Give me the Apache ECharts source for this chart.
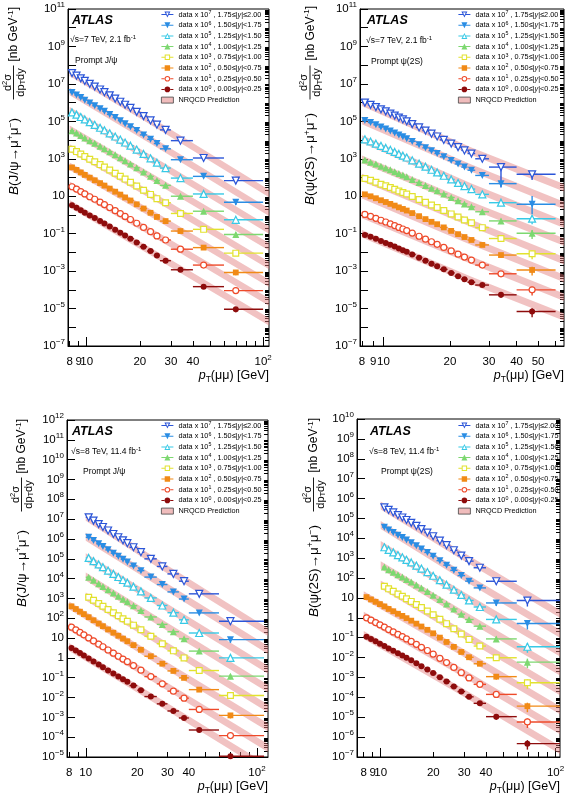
<!DOCTYPE html>
<html><head><meta charset="utf-8">
<script src="https://cdn.jsdelivr.net/npm/echarts@6/dist/echarts.min.js"></script>
<style>html,body{margin:0;padding:0;background:#fff}#c{width:568px;height:800px}</style>
</head><body><div id="c"></div>
<script>
// ================= DATA =================
const SCALE_EXP = [7, 6, 5, 4, 3, 2, 1, 0];
const RAPIDITY = ['1.75≤|y|≤2.00', '1.50≤|y|<1.75', '1.25≤|y|<1.50', '1.00≤|y|<1.25',
                  '0.75≤|y|<1.00', '0.50≤|y|<0.75', '0.25≤|y|<0.50', '0.00≤|y|<0.25'];
const X_TICK_VALUES = [8, 9, 10, 20, 30, 40, 50, 60, 70, 80, 90, 100];

// ---- Panel 1: prompt J/psi, 7 TeV (unscaled values, nb/GeV) ----
const P1_pt = [8.25, 8.75, 9.25, 9.75, 10.4, 11.1, 11.9, 12.6, 13.5, 14.5, 15.5, 16.5, 17.7, 19.2, 21, 23, 25, 28, 34, 46, 70];
const P1_lo = [8, 8.5, 9, 9.5, 10, 10.75, 11.5, 12.25, 13, 14, 15, 16, 17, 18.5, 20, 22, 24, 26, 30, 40, 60];
const P1_hi = [8.5, 9, 9.5, 10, 10.75, 11.5, 12.25, 13, 14, 15, 16, 17, 18.5, 20, 22, 24, 26, 30, 40, 60, 100];
const P1_k7 = [3.8, 2.75, 1.98, 1.44, 1.01, 0.72, 0.5, 0.36, 0.245, 0.163, 0.111, 0.077, 0.052, 0.032, 0.019, 0.0112, 0.0066, 0.0035, 9.3e-4, 1.1e-4, 6.8e-6];
const P1_k6 = [3.45, 2.55, 1.85, 1.35, 0.95, 0.68, 0.47, 0.345, 0.235, 0.158, 0.108, 0.075, 0.051, 0.032, 0.0188, 0.011, 0.0065, 0.0034, 8.9e-4, 1.15e-4, 4.8e-6];
const P1_k5 = [3.0, 2.28, 1.7, 1.26, 0.9, 0.65, 0.455, 0.335, 0.23, 0.155, 0.106, 0.074, 0.05, 0.031, 0.0182, 0.0106, 0.0062, 0.0032, 9.3e-4, 1.32e-4, 5.5e-6];
const P1_k4 = [3.15, 2.38, 1.76, 1.3, 0.92, 0.67, 0.47, 0.345, 0.238, 0.162, 0.112, 0.078, 0.053, 0.033, 0.0198, 0.0116, 0.0069, 0.0038, 1.0e-3, 1.58e-4, 9.1e-6];
const P1_k3 = [3.25, 2.42, 1.8, 1.33, 0.95, 0.69, 0.49, 0.36, 0.25, 0.17, 0.117, 0.082, 0.056, 0.035, 0.021, 0.0125, 0.0074, 0.0045, 1.2e-3, 1.7e-4, 9.1e-6];
const P1_k2 = [3.45, 2.55, 1.87, 1.38, 0.98, 0.71, 0.5, 0.37, 0.255, 0.175, 0.122, 0.086, 0.059, 0.037, 0.022, 0.013, 0.0078, 0.0047, 1.38e-3, 1.8e-4, 8.5e-6];
const P1_k1 = [3.2, 2.4, 1.78, 1.32, 0.94, 0.69, 0.48, 0.36, 0.25, 0.17, 0.118, 0.083, 0.057, 0.036, 0.0215, 0.0127, 0.0076, 0.0046, 1.48e-3, 2.1e-4, 9.1e-6];
const P1_k0 = [3.3, 2.45, 1.8, 1.32, 0.93, 0.68, 0.47, 0.35, 0.24, 0.163, 0.113, 0.079, 0.054, 0.034, 0.020, 0.0117, 0.0069, 0.0036, 1.18e-3, 1.48e-4, 9.1e-6];
const P1_relErr = [0.03, 0.03, 0.03, 0.03, 0.03, 0.03, 0.03, 0.03, 0.03, 0.03, 0.03, 0.03, 0.03, 0.03, 0.03, 0.03, 0.03, 0.05, 0.08, 0.15, 0.3];
const P1_band_k7 = [[8, 2.63, 6.61], [25, 4.17e-3, 1.05e-2], [108, 8.9e-7, 2.24e-6]];
const P1_band_k6 = [[8, 2.51, 6.31], [25, 3.98e-3, 1.0e-2], [108, 8.9e-7, 2.24e-6]];
const P1_band_k5 = [[8, 2.29, 5.75], [25, 3.98e-3, 1.0e-2], [108, 1.0e-6, 2.51e-6]];
const P1_band_k4 = [[8, 2.40, 6.03], [25, 4.47e-3, 1.12e-2], [108, 1.26e-6, 3.16e-6]];
const P1_band_k3 = [[8, 2.40, 6.03], [25, 4.79e-3, 1.20e-2], [108, 1.26e-6, 3.16e-6]];
const P1_band_k2 = [[8, 2.51, 6.31], [25, 5.01e-3, 1.26e-2], [108, 1.41e-6, 3.55e-6]];
const P1_band_k1 = [[8, 2.40, 6.03], [25, 5.01e-3, 1.26e-2], [108, 1.41e-6, 3.55e-6]];
const P1_band_k0 = [[8, 2.51, 6.31], [25, 4.47e-3, 1.12e-2], [108, 1.26e-6, 3.16e-6]];
const P1_xLabels = [8, 9, 10, 20, 30, 40, 100];
const P1_yLabelExp = [-7, -5, -3, -1, 1, 3, 5, 7, 9, 11];

// ---- Panel 2: prompt psi(2S), 7 TeV ----
const P2_pt = [8.25, 8.75, 9.25, 9.75, 10.25, 10.75, 11.25, 11.75, 12.25, 12.75, 13.5, 14.5, 15.5, 16.5, 17.5, 18.75, 20.25, 21.75, 23.25, 25, 28, 34, 47];
const P2_lo = [8, 8.5, 9, 9.5, 10, 10.5, 11, 11.5, 12, 12.5, 13, 14, 15, 16, 17, 18, 19.5, 21, 22.5, 24, 26, 30, 40];
const P2_hi = [8.5, 9, 9.5, 10, 10.5, 11, 11.5, 12, 12.5, 13, 14, 15, 16, 17, 18, 19.5, 21, 22.5, 24, 26, 30, 40, 60];
const P2_k7 = [0.100, 0.076, 0.058, 0.044, 0.034, 0.026, 0.0204, 0.0158, 0.0126, 0.0100, 0.0071, 0.0047, 0.0032, 0.0022, 0.00155, 0.00102, 6.5e-4, 4.2e-4, 2.8e-4, 1.9e-4, 1.0e-4, 3.6e-5, 1.48e-5];
const P2_k6 = [0.112, 0.086, 0.065, 0.050, 0.039, 0.0305, 0.0239, 0.0187, 0.0149, 0.0119, 0.0085, 0.0057, 0.00385, 0.0027, 0.0019, 0.00127, 8.1e-4, 5.3e-4, 3.6e-4, 2.45e-4, 1.29e-4, 4.7e-5, 3.7e-6];
const P2_k5 = [0.110, 0.084, 0.064, 0.049, 0.038, 0.030, 0.0233, 0.0182, 0.0146, 0.0117, 0.0083, 0.0055, 0.0038, 0.0026, 0.00187, 0.00124, 7.9e-4, 5.1e-4, 3.5e-4, 2.4e-4, 1.26e-4, 4.5e-5, 6.3e-6];
const P2_k4 = [0.085, 0.066, 0.052, 0.040, 0.032, 0.0257, 0.0205, 0.0164, 0.0134, 0.0109, 0.0079, 0.0054, 0.0037, 0.0027, 0.00194, 0.00132, 8.6e-4, 5.7e-4, 3.9e-4, 2.7e-4, 1.48e-4, 4.8e-5, 1.05e-5];
const P2_k3 = [0.089, 0.071, 0.056, 0.044, 0.036, 0.029, 0.0235, 0.019, 0.0158, 0.0131, 0.0097, 0.0067, 0.0047, 0.0034, 0.0025, 0.00173, 0.00114, 7.7e-4, 5.4e-4, 3.8e-4, 2.1e-4, 5.5e-5, 8.5e-6];
const P2_k2 = [0.126, 0.099, 0.078, 0.061, 0.049, 0.039, 0.0316, 0.0254, 0.0209, 0.0172, 0.0126, 0.0086, 0.006, 0.0043, 0.0032, 0.00216, 0.00141, 9.4e-4, 6.6e-4, 4.6e-4, 2.5e-4, 7.2e-5, 1.15e-5];
const P2_k1 = [0.107, 0.084, 0.066, 0.052, 0.042, 0.0335, 0.0269, 0.0216, 0.0178, 0.0146, 0.0107, 0.0073, 0.0051, 0.0037, 0.0027, 0.00184, 0.0012, 8.0e-4, 5.6e-4, 3.9e-4, 2.1e-4, 7.2e-5, 1.0e-5];
const P2_k0 = [0.085, 0.068, 0.053, 0.041, 0.032, 0.0257, 0.0204, 0.0162, 0.0131, 0.0107, 0.0077, 0.0052, 0.0036, 0.0025, 0.00183, 0.00124, 8.0e-4, 5.3e-4, 3.7e-4, 2.55e-4, 1.8e-4, 5.4e-5, 6.9e-6];
const P2_relErr = [0.04, 0.04, 0.04, 0.04, 0.04, 0.04, 0.04, 0.04, 0.04, 0.04, 0.04, 0.04, 0.04, 0.04, 0.04, 0.04, 0.06, 0.08, 0.1, 0.12, 0.15, 0.3, 0.5];
// [series scale exponent, point index, relative down, relative up]
const P2_errOverride = [[7, 21, 0.92, 0.3], [6, 22, 0.7, 1.8]];
const P2_band_k7 = [[8, 0.066, 0.166], [25, 1.58e-4, 3.98e-4], [65.5, 1.78e-6, 4.47e-6]];
const P2_band_k6 = [[8, 0.0708, 0.178], [25, 2.0e-4, 5.01e-4], [65.5, 2.0e-6, 5.01e-6]];
const P2_band_k5 = [[8, 0.0708, 0.178], [25, 1.91e-4, 4.79e-4], [65.5, 2.0e-6, 5.01e-6]];
const P2_band_k4 = [[8, 0.0603, 0.151], [25, 2.0e-4, 5.01e-4], [65.5, 2.24e-6, 5.62e-6]];
const P2_band_k3 = [[8, 0.0631, 0.158], [25, 2.24e-4, 5.62e-4], [65.5, 2.24e-6, 5.62e-6]];
const P2_band_k2 = [[8, 0.0759, 0.191], [25, 2.51e-4, 6.31e-4], [65.5, 2.51e-6, 6.31e-6]];
const P2_band_k1 = [[8, 0.0676, 0.170], [25, 2.40e-4, 6.03e-4], [65.5, 2.51e-6, 6.31e-6]];
const P2_band_k0 = [[8, 0.0631, 0.158], [25, 2.0e-4, 5.01e-4], [65.5, 2.24e-6, 5.62e-6]];
const P2_xLabels = [8, 9, 10, 20, 30, 40, 50];
const P2_yLabelExp = [-7, -5, -3, -1, 1, 3, 5, 7, 9, 11];

// ---- Panel 3: prompt J/psi, 8 TeV ----
const P3_pt = [8.25, 8.75, 9.25, 9.75, 10.4, 11.1, 11.9, 12.6, 13.5, 14.5, 15.5, 16.5, 17.5, 19, 21, 24, 28, 32.5, 37.5, 46, 70];
const P3_lo = [8, 8.5, 9, 9.5, 10, 10.75, 11.5, 12.25, 13, 14, 15, 16, 17, 18, 20, 22, 26, 30, 35, 40, 60];
const P3_hi = [8.5, 9, 9.5, 10, 10.75, 11.5, 12.25, 13, 14, 15, 16, 17, 18, 20, 22, 26, 30, 35, 40, 60, 110];
const P3_k7 = [null, null, null, null, 1.23, 0.84, 0.56, 0.40, 0.267, 0.178, 0.122, 0.085, 0.061, 0.038, 0.0215, 0.0099, 0.0041, 0.00172, 7.4e-4, 1.7e-4, 7.1e-6];
const P3_k6 = [null, null, null, null, 1.2, 0.84, 0.57, 0.413, 0.281, 0.191, 0.133, 0.094, 0.069, 0.0436, 0.0252, 0.0119, 0.005, 0.00213, 9.3e-4, 1.86e-4, 8.3e-6];
const P3_k5 = [null, null, null, null, 1.1, 0.76, 0.516, 0.375, 0.255, 0.173, 0.12, 0.085, 0.062, 0.039, 0.0226, 0.0106, 0.0044, 0.0019, 8.3e-4, 1.8e-4, 1.0e-5];
const P3_k4 = [null, null, null, null, 1.17, 0.82, 0.555, 0.404, 0.275, 0.187, 0.13, 0.092, 0.067, 0.0426, 0.0246, 0.0116, 0.0049, 0.00208, 9.1e-4, 2.2e-4, 1.2e-5];
const P3_k3 = [null, null, null, null, 1.15, 0.81, 0.55, 0.405, 0.277, 0.19, 0.133, 0.095, 0.070, 0.0448, 0.0261, 0.0124, 0.0052, 0.00226, 1.0e-3, 2.3e-4, 1.26e-5];
const P3_k2 = [3.98, 2.92, 2.14, 1.61, 1.13, 0.79, 0.54, 0.397, 0.272, 0.186, 0.131, 0.094, 0.069, 0.044, 0.0256, 0.0121, 0.0051, 0.0022, 9.8e-4, 2.5e-4, 1.26e-5];
const P3_k1 = [3.55, 2.61, 1.92, 1.45, 1.02, 0.72, 0.49, 0.364, 0.25, 0.172, 0.121, 0.087, 0.064, 0.041, 0.024, 0.0114, 0.0049, 0.0021, 9.3e-4, 2.5e-4, 1.2e-5];
const P3_k0 = [3.16, 2.34, 1.74, 1.32, 0.93, 0.66, 0.457, 0.339, 0.234, 0.162, 0.115, 0.083, 0.062, 0.040, 0.0234, 0.0112, 0.0048, 0.0021, 9.3e-4, 2.3e-4, 1.1e-5];
const P3_relErr = [0.02, 0.02, 0.02, 0.02, 0.02, 0.02, 0.02, 0.02, 0.02, 0.02, 0.02, 0.02, 0.02, 0.02, 0.02, 0.02, 0.04, 0.05, 0.07, 0.12, 0.3];
const P3_band_k7 = [[10, 0.832, 2.09], [28, 2.63e-3, 6.61e-3], [116, 1.26e-6, 3.16e-6]];
const P3_band_k6 = [[10, 0.813, 2.04], [28, 3.16e-3, 7.94e-3], [116, 1.58e-6, 3.98e-6]];
const P3_band_k5 = [[10, 0.759, 1.91], [28, 3.02e-3, 7.59e-3], [116, 1.58e-6, 3.98e-6]];
const P3_band_k4 = [[10, 0.794, 2.0], [28, 3.31e-3, 8.32e-3], [116, 1.78e-6, 4.47e-6]];
const P3_band_k3 = [[10, 0.794, 2.0], [28, 3.39e-3, 8.51e-3], [116, 1.78e-6, 4.47e-6]];
const P3_band_k2 = [[8, 2.82, 7.08], [28, 3.39e-3, 8.51e-3], [116, 2.0e-6, 5.01e-6]];
const P3_band_k1 = [[8, 2.51, 6.31], [28, 3.16e-3, 7.94e-3], [116, 1.78e-6, 4.47e-6]];
const P3_band_k0 = [[8, 2.24, 5.62], [28, 3.02e-3, 7.59e-3], [116, 1.58e-6, 3.98e-6]];
const P3_xLabels = [8, 10, 20, 30, 40, 100];
const P3_yLabelExp = [-5, -4, -3, -2, -1, 0, 1, 2, 3, 4, 5, 6, 7, 8, 9, 10, 11, 12];

// ---- Panel 4: prompt psi(2S), 8 TeV ----
const P4_pt = [8.3, 8.8, 9.35, 9.9, 10.5, 11.1, 11.8, 12.55, 13.3, 14.05, 14.95, 16, 17.1, 18.5, 19.95, 21.8, 23.8, 26.2, 28.9, 32, 36.9, 45.8, 69];
const P4_lo = [8, 8.55, 9.1, 9.6, 10.2, 10.8, 11.45, 12.15, 12.9, 13.65, 14.5, 15.45, 16.5, 17.75, 19.2, 20.85, 22.8, 25, 27.5, 30.4, 34, 40, 60];
const P4_hi = [8.55, 9.1, 9.6, 10.2, 10.8, 11.45, 12.15, 12.9, 13.65, 14.5, 15.45, 16.5, 17.75, 19.2, 20.85, 22.8, 25, 27.5, 30.4, 34, 40, 60, 110];
const P4_k7 = [null, null, null, null, 0.0363, 0.0266, 0.0199, 0.0145, 0.0111, 0.0083, 0.006, 0.0042, 0.0029, 0.00195, 0.00127, 7.6e-4, 4.5e-4, 2.5e-4, 1.35e-4, 7.1e-5, 3.3e-5, 6.9e-6, 7.4e-7];
const P4_k6 = [null, null, null, null, 0.0363, 0.0265, 0.0198, 0.0144, 0.011, 0.0082, 0.006, 0.00419, 0.0029, 0.00194, 0.00126, 7.5e-4, 4.44e-4, 2.46e-4, 1.33e-4, 7.0e-5, 3.2e-5, 5.6e-6, 5.2e-7];
const P4_k5 = [null, null, null, null, 0.0355, 0.026, 0.0196, 0.0143, 0.011, 0.0083, 0.0061, 0.00426, 0.003, 0.002, 0.00131, 7.8e-4, 4.65e-4, 2.59e-4, 1.41e-4, 7.5e-5, 3.5e-5, 8.3e-6, 3.5e-7];
const P4_k4 = [null, null, null, null, 0.0355, 0.0262, 0.0198, 0.0146, 0.0113, 0.0085, 0.0063, 0.00443, 0.00313, 0.0021, 0.00138, 8.3e-4, 5.0e-4, 2.79e-4, 1.53e-4, 8.2e-5, 3.8e-5, 8.7e-6, 5.9e-7];
const P4_k3 = [null, null, null, null, 0.0389, 0.0286, 0.0214, 0.0157, 0.0121, 0.0091, 0.0067, 0.00467, 0.00327, 0.00219, 0.00143, 8.5e-4, 5.1e-4, 2.84e-4, 1.54e-4, 8.2e-5, 3.8e-5, 9.8e-6, 5.4e-7];
const P4_k2 = [0.110, 0.084, 0.064, 0.049, 0.0375, 0.028, 0.0214, 0.016, 0.0125, 0.0096, 0.0072, 0.0051, 0.00365, 0.00249, 0.00166, 0.00101, 6.1e-4, 3.46e-4, 1.92e-4, 1.04e-4, 4.9e-5, 1.1e-5, 3.6e-7];
const P4_k1 = [0.100, 0.076, 0.058, 0.0447, 0.0342, 0.0256, 0.0195, 0.0146, 0.0114, 0.0087, 0.0065, 0.00466, 0.0033, 0.00227, 0.00151, 9.2e-4, 5.6e-4, 3.2e-4, 1.75e-4, 9.5e-5, 4.5e-5, 1.41e-5, 5.8e-7];
const P4_k0 = [0.112, 0.086, 0.066, 0.050, 0.038, 0.0287, 0.0219, 0.0164, 0.0128, 0.0098, 0.0073, 0.0052, 0.0037, 0.00254, 0.0017, 0.00103, 6.3e-4, 3.5e-4, 1.96e-4, 1.06e-4, 5.0e-5, 1.07e-5, 4.7e-7];
const P4_relErr = [0.04, 0.04, 0.04, 0.04, 0.04, 0.04, 0.04, 0.04, 0.04, 0.04, 0.04, 0.04, 0.04, 0.04, 0.04, 0.05, 0.06, 0.08, 0.1, 0.12, 0.15, 0.3, 0.5];
const P4_band_k7 = [[10, 0.0282, 0.0708], [28.9, 8.91e-5, 2.24e-4], [106, 1.0e-7, 2.51e-7]];
const P4_band_k6 = [[10, 0.0295, 0.0741], [28.9, 8.91e-5, 2.24e-4], [106, 1.0e-7, 2.51e-7]];
const P4_band_k5 = [[10, 0.0295, 0.0741], [28.9, 9.55e-5, 2.40e-4], [106, 1.12e-7, 2.82e-7]];
const P4_band_k4 = [[10, 0.0282, 0.0708], [28.9, 1.05e-4, 2.63e-4], [106, 1.26e-7, 3.16e-7]];
const P4_band_k3 = [[10, 0.0302, 0.0759], [28.9, 1.10e-4, 2.75e-4], [106, 1.26e-7, 3.16e-7]];
const P4_band_k2 = [[8, 0.0871, 0.219], [28.9, 1.26e-4, 3.16e-4], [106, 1.41e-7, 3.55e-7]];
const P4_band_k1 = [[8, 0.0794, 0.200], [28.9, 1.20e-4, 3.02e-4], [106, 1.41e-7, 3.55e-7]];
const P4_band_k0 = [[8, 0.0871, 0.219], [28.9, 1.26e-4, 3.16e-4], [106, 1.41e-7, 3.55e-7]];
const P4_xLabels = [8, 9, 10, 20, 30, 40, 100];
const P4_yLabelExp = [-7, -6, -5, -4, -3, -2, -1, 0, 1, 2, 3, 4, 5, 6, 7, 8, 9, 10];

// ================= STYLE / LAYOUT =================
const FONT = '"Liberation Sans", Arial, Helvetica, sans-serif';
const COLORS = ['#2b55d8', '#2a8de4', '#37c9e6', '#7dd870', '#e2e22e', '#f18a16', '#ee4a2a', '#8e0c0c'];
const MARKERS = [
  { symbol: 'triangle', rotate: 180, open: true,  size: 7 },
  { symbol: 'triangle', rotate: 180, open: false, size: 7 },
  { symbol: 'triangle', rotate: 0,   open: true,  size: 7 },
  { symbol: 'triangle', rotate: 0,   open: false, size: 7 },
  { symbol: 'rect',     rotate: 0,   open: true,  size: 5.8 },
  { symbol: 'rect',     rotate: 0,   open: false, size: 5.8 },
  { symbol: 'circle',   rotate: 0,   open: true,  size: 6 },
  { symbol: 'circle',   rotate: 0,   open: false, size: 6 }
];
const TRI_LINE = 'M0 2.5H4.8V3.5H0Z M7.2 2.5H12V3.5H7.2Z ';
const SQ_LINE = 'M0 2.5H3.5V3.5H0Z M8.5 2.5H12V3.5H8.5Z ';
const CI_LINE = 'M0 2.5H3.4V3.5H0Z M8.6 2.5H12V3.5H8.6Z ';
const LEGEND_ICONS = [
  'path://' + TRI_LINE + 'M3 0H9L6 6Z M4.6 0.9L6 4.1L7.4 0.9Z',
  'path://' + TRI_LINE + 'M3 0H9L6 6Z',
  'path://' + TRI_LINE + 'M6 0L9 6H3Z M6 1.9L4.6 5.1H7.4Z',
  'path://' + TRI_LINE + 'M6 0L9 6H3Z',
  'path://' + SQ_LINE + 'M3.3 0.3H8.7V5.7H3.3Z M4.3 1.3V4.7H7.7V1.3Z',
  'path://' + SQ_LINE + 'M3.3 0.3H8.7V5.7H3.3Z',
  'path://' + CI_LINE + 'M3.2 3A2.8 2.8 0 1 0 8.8 3A2.8 2.8 0 1 0 3.2 3Z M4.2 3A1.8 1.8 0 1 1 7.8 3A1.8 1.8 0 1 1 4.2 3Z',
  'path://' + CI_LINE + 'M3.2 3A2.8 2.8 0 1 0 8.8 3A2.8 2.8 0 1 0 3.2 3Z'
];
const BAND_FILL = 'rgba(225,120,120,0.45)';
const BAND_NAME = 'NRQCD Prediction';

const PANELS = [
  { grid: { left: 68, top: 9, width: 201, height: 337 }, xr: [7.83, 108], yr: [-7, 11],
    pt: P1_pt, lo: P1_lo, hi: P1_hi, err: P1_relErr, errOv: [],
    vals: [P1_k7, P1_k6, P1_k5, P1_k4, P1_k3, P1_k2, P1_k1, P1_k0],
    bands: [P1_band_k7, P1_band_k6, P1_band_k5, P1_band_k4, P1_band_k3, P1_band_k2, P1_band_k1, P1_band_k0],
    xLabels: P1_xLabels, yLabels: P1_yLabelExp, legend: { left: 161, top: 10 },
    texts: { atlas: [72, 21], energy: [70, 40, '√s=7 TeV, 2.1 fb'], prompt: [75, 61, 'Prompt J/ψ'] },
    ytitle: { cx: 14, top: 6, frac: -76.5, b: -150.5, particle: 'J/ψ' } },
  { grid: { left: 360, top: 9, width: 204, height: 337 }, xr: [7.84, 65.5], yr: [-7, 11],
    pt: P2_pt, lo: P2_lo, hi: P2_hi, err: P2_relErr, errOv: P2_errOverride,
    vals: [P2_k7, P2_k6, P2_k5, P2_k4, P2_k3, P2_k2, P2_k1, P2_k0],
    bands: [P2_band_k7, P2_band_k6, P2_band_k5, P2_band_k4, P2_band_k3, P2_band_k2, P2_band_k1, P2_band_k0],
    xLabels: P2_xLabels, yLabels: P2_yLabelExp, legend: { left: 458, top: 10 },
    texts: { atlas: [367, 21], energy: [366, 41, '√s=7 TeV, 2.1 fb'], prompt: [371, 62, 'Prompt ψ(2S)'] },
    ytitle: { cx: 310.5, top: 5, frac: -77.5, b: -154, particle: 'ψ(2S)' } },
  { grid: { left: 67, top: 420, width: 201, height: 337 }, xr: [7.77, 116], yr: [-5, 12],
    pt: P3_pt, lo: P3_lo, hi: P3_hi, err: P3_relErr, errOv: [],
    vals: [P3_k7, P3_k6, P3_k5, P3_k4, P3_k3, P3_k2, P3_k1, P3_k0],
    bands: [P3_band_k7, P3_band_k6, P3_band_k5, P3_band_k4, P3_band_k3, P3_band_k2, P3_band_k1, P3_band_k0],
    xLabels: P3_xLabels, yLabels: P3_yLabelExp, legend: { left: 161, top: 421 },
    texts: { atlas: [72, 432], energy: [71, 452, '√s=8 TeV, 11.4 fb'], prompt: [83, 472, 'Prompt J/ψ'] },
    ytitle: { cx: 22, top: 418, frac: -76.5, b: -150.5, particle: 'J/ψ' } },
  { grid: { left: 357, top: 419, width: 203, height: 338 }, xr: [7.32, 106], yr: [-7, 10],
    pt: P4_pt, lo: P4_lo, hi: P4_hi, err: P4_relErr, errOv: [],
    vals: [P4_k7, P4_k6, P4_k5, P4_k4, P4_k3, P4_k2, P4_k1, P4_k0],
    bands: [P4_band_k7, P4_band_k6, P4_band_k5, P4_band_k4, P4_band_k3, P4_band_k2, P4_band_k1, P4_band_k0],
    xLabels: P4_xLabels, yLabels: P4_yLabelExp, legend: { left: 458, top: 421 },
    texts: { atlas: [370, 432], energy: [369, 452, '√s=8 TeV, 11.4 fb'], prompt: [381, 472, 'Prompt ψ(2S)'] },
    ytitle: { cx: 314, top: 417, frac: -77.5, b: -154, particle: 'ψ(2S)' } }
];

// ================= BUILD =================
const L = Math.log10;
const legendName = (i) => 'data x 10^' + SCALE_EXP[i] + ' , ' + RAPIDITY[i];
const legendFmt = (name) => name === BAND_NAME ? name :
  name.replace(/10\^(\d)/, '10{s|$1}').replace('|y|', '|{i|y}|');

const AX_RICH = {
  b: { fontSize: 11.5, lineHeight: 16, fontFamily: FONT, color: '#000' },
  s: { fontSize: 8, lineHeight: 8, verticalAlign: 'top', fontFamily: FONT, color: '#000' }
};
const fmtX = (v) => { const x = Math.round(Math.pow(10, v)); return x === 100 ? '{b|10}{s|2}' : '{b|' + x + '}'; };
const fmtY = (v) => { const n = Math.round(v); if (n === 0) return '{b|1}'; if (n === 1) return '{b|10}';
  return '{b|10}{s|' + (n < 0 ? '−' + (-n) : n) + '}'; };

const option = { animation: false, backgroundColor: '#fff', textStyle: { fontFamily: FONT },
  grid: [], xAxis: [], yAxis: [], series: [], legend: [], graphic: [] };

PANELS.forEach((P, pi) => {
  option.grid.push(Object.assign({ show: true, borderColor: '#000', borderWidth: 1, backgroundColor: 'transparent' }, P.grid));
  const xmin = L(P.xr[0]), xmax = L(P.xr[1]);
  option.xAxis.push({ type: 'value', gridIndex: pi, min: xmin, max: xmax, position: 'bottom',
    axisLine: { show: true, onZero: false, lineStyle: { color: '#000', width: 1 } },
    axisTick: { show: true, inside: true, length: 5, lineStyle: { color: '#000' },
      customValues: X_TICK_VALUES.filter(v => v >= P.xr[0] && v <= P.xr[1]).map(L) },
    axisLabel: { show: true, customValues: P.xLabels.map(L), formatter: fmtX, margin: 8, rich: AX_RICH },
    splitLine: { show: false },
    name: '{i|p}{t|T}{n|(μμ) [GeV]}', nameLocation: 'end', nameGap: 0,
    nameTextStyle: { align: 'right', verticalAlign: 'top', padding: [22, 0, 0, 0],
      rich: { i: { fontStyle: 'italic', fontSize: 12.5, lineHeight: 16, fontFamily: FONT },
              t: { fontSize: 8.5, lineHeight: 8, verticalAlign: 'bottom', fontFamily: FONT },
              n: { fontSize: 12.5, lineHeight: 16, fontFamily: FONT } } } });
  option.yAxis.push({ type: 'value', gridIndex: pi, min: P.yr[0], max: P.yr[1], interval: 1,
    axisLine: { show: true, onZero: false, lineStyle: { color: '#000', width: 1 } },
    axisTick: { show: true, inside: true, length: 8, lineStyle: { color: '#000' } },
    axisLabel: { show: true, customValues: P.yLabels, formatter: fmtY, margin: 3, rich: AX_RICH },
    splitLine: { show: false } });
});
// overlay axes: long x ticks at decades, minor y ticks
PANELS.forEach((P, pi) => {
  option.xAxis.push({ type: 'value', gridIndex: pi, min: L(P.xr[0]), max: L(P.xr[1]), position: 'bottom',
    axisLine: { show: false, onZero: false }, axisLabel: { show: false }, splitLine: { show: false },
    axisTick: { show: true, inside: true, length: 9, lineStyle: { color: '#000' },
      customValues: [10, 100].filter(v => v >= P.xr[0] && v <= P.xr[1]).map(L) } });
  const minor = [];
  for (let n = P.yr[0]; n < P.yr[1]; n++) for (let m = 2; m <= 9; m++) minor.push(n + L(m));
  option.yAxis.push({ type: 'value', gridIndex: pi, min: P.yr[0], max: P.yr[1],
    axisLine: { show: false, onZero: false }, axisLabel: { show: false }, splitLine: { show: false },
    axisTick: { show: true, inside: true, length: 4, lineStyle: { color: '#000' }, customValues: minor } });
});

PANELS.forEach((P, pi) => {
  const legendData = [];
  SCALE_EXP.forEach((k, si) => {
    const sc = Math.pow(10, k);
    const color = COLORS[si], mk = MARKERS[si], name = legendName(si);
    // NRQCD band
    const nodes = P.bands[si].map(n => [L(n[0]), L(n[1] * sc), L(n[2] * sc)]);
    option.series.push({ type: 'custom', name: BAND_NAME, xAxisIndex: pi, yAxisIndex: pi, clip: true, z: 1,
      itemStyle: { color: BAND_FILL }, silent: true,
      data: nodes,
      renderItem: (params, api) => {
        if (params.dataIndex !== 0) return;
        const up = nodes.map(n => api.coord([n[0], n[2]]));
        const dn = nodes.slice().reverse().map(n => api.coord([n[0], n[1]]));
        return { type: 'polygon', shape: { points: up.concat(dn) }, style: { fill: BAND_FILL } };
      } });
    // error bars
    const errData = [], pts = [];
    P.vals[si].forEach((v, i) => {
      if (v == null) return;
      const y = v * sc;
      let dn = P.err[i], upE = P.err[i];
      P.errOv.forEach(o => { if (o[0] === k && o[1] === i) { dn = o[2]; upE = o[3]; } });
      errData.push([L(P.pt[i]), L(y), L(P.lo[i]), L(P.hi[i]), L(y * (1 - dn)), L(y * (1 + upE))]);
      pts.push([L(P.pt[i]), L(y)]);
    });
    option.series.push({ type: 'custom', name: name, xAxisIndex: pi, yAxisIndex: pi, clip: true, z: 2, silent: true,
      itemStyle: { color: color }, data: errData,
      renderItem: (params, api) => {
        const a = api.coord([api.value(2), api.value(1)]), b = api.coord([api.value(3), api.value(1)]);
        const c = api.coord([api.value(0), api.value(4)]), d = api.coord([api.value(0), api.value(5)]);
        return { type: 'group', children: [
          { type: 'line', shape: { x1: a[0], y1: a[1], x2: b[0], y2: b[1] }, style: { stroke: color, lineWidth: 1.4 } },
          { type: 'line', shape: { x1: c[0], y1: c[1], x2: d[0], y2: d[1] }, style: { stroke: color, lineWidth: 1.4 } } ] };
      } });
    // markers
    option.series.push({ type: 'scatter', name: name, xAxisIndex: pi, yAxisIndex: pi, z: 3, silent: true,
      symbol: mk.symbol, symbolRotate: mk.rotate, symbolSize: mk.size,
      itemStyle: mk.open ? { color: '#fff', borderColor: color, borderWidth: 1.2, opacity: 1 } : { color: color, opacity: 1 },
      data: pts });
    legendData.push({ name: name, icon: LEGEND_ICONS[si], itemStyle: { color: color, borderWidth: 0 } });
  });
  legendData.push({ name: BAND_NAME, icon: 'rect', itemStyle: { color: '#f0bcbc', borderColor: '#444', borderWidth: 0.8 } });
  option.legend.push({ show: true, orient: 'vertical', left: P.legend.left, top: P.legend.top, padding: 0,
    itemWidth: 12, itemHeight: 6, itemGap: 1.7, selectedMode: false, formatter: legendFmt,
    textStyle: { fontSize: 7.3, fontFamily: FONT, color: '#000', lineHeight: 9,
      rich: { s: { fontSize: 5.3, lineHeight: 6, verticalAlign: 'top', fontFamily: FONT },
              i: { fontSize: 7.3, lineHeight: 9, fontStyle: 'italic', fontFamily: FONT } } },
    data: legendData });

  // panel texts
  const T = P.texts;
  option.graphic.push(
    { type: 'text', x: T.atlas[0], y: T.atlas[1], style: { text: 'ATLAS', fontSize: 12.5, fontWeight: 'bold', fontStyle: 'italic', fontFamily: FONT, fill: '#000', verticalAlign: 'middle' } },
    { type: 'text', x: T.energy[0], y: T.energy[1], style: { text: T.energy[2] + '{s|-1}', fontSize: 8.5, lineHeight: 11, fontFamily: FONT, fill: '#000', verticalAlign: 'middle',
        rich: { s: { fontSize: 6, lineHeight: 6, verticalAlign: 'top', fontFamily: FONT } } } },
    { type: 'text', x: T.prompt[0], y: T.prompt[1], style: { text: T.prompt[2], fontSize: 8.5, fontFamily: FONT, fill: '#000', verticalAlign: 'middle' } }
  );
  // y-axis title (rotated group)
  const Y = P.ytitle;
  option.graphic.push({ type: 'group', x: Y.cx, y: Y.top, rotation: Math.PI / 2, children: [
    { type: 'text', x: -1, y: 0, style: { text: '[nb GeV{s|-1}]', align: 'right', verticalAlign: 'middle', fontSize: 12, lineHeight: 15, fontFamily: FONT, fill: '#000',
        rich: { s: { fontSize: 8, lineHeight: 8, verticalAlign: 'top', fontFamily: FONT } } } },
    { type: 'text', x: Y.frac, y: -6.5, style: { text: 'd{s|2}σ', align: 'center', verticalAlign: 'middle', fontSize: 11, lineHeight: 13, fontFamily: FONT, fill: '#000',
        rich: { s: { fontSize: 7.5, lineHeight: 7, verticalAlign: 'top', fontFamily: FONT } } } },
    { type: 'line', shape: { x1: Y.frac - 17, y1: -0.5, x2: Y.frac + 17, y2: -0.5 }, style: { stroke: '#000', lineWidth: 0.9 } },
    { type: 'text', x: Y.frac, y: 6.5, style: { text: 'dp{t|T}dy', align: 'center', verticalAlign: 'middle', fontSize: 11, lineHeight: 13, fontFamily: FONT, fill: '#000',
        rich: { t: { fontSize: 7.5, lineHeight: 7, verticalAlign: 'bottom', fontFamily: FONT } } } },
    { type: 'text', x: Y.b, y: 0, style: { text: '{i|B}(' + Y.particle + '→μ{s|+}μ{s|−})', align: 'center', verticalAlign: 'middle', fontSize: 13.5, lineHeight: 15, fontFamily: FONT, fill: '#000',
        rich: { i: { fontStyle: 'italic', fontSize: 13.5, lineHeight: 15, fontFamily: FONT },
                s: { fontSize: 8.5, lineHeight: 8, verticalAlign: 'top', fontFamily: FONT } } } }
  ] });
});

const chart = echarts.init(document.getElementById('c'), null, { renderer: 'canvas', width: 568, height: 800 });
chart.setOption(option);
</script>
</body></html>
